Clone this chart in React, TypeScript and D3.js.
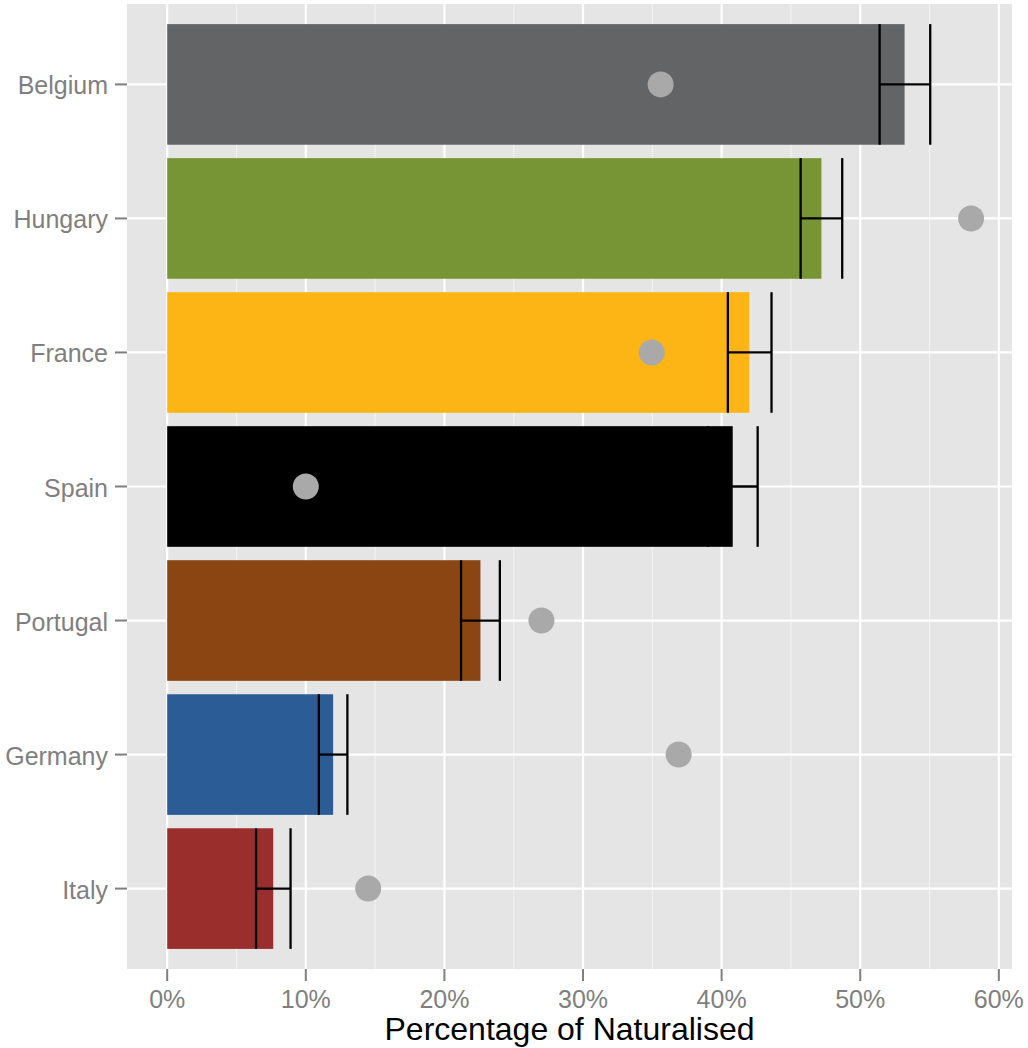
import React from "react";
import * as d3 from "d3";

const countries = ["Belgium", "Hungary", "France", "Spain", "Portugal", "Germany", "Italy"];
const barValues = [53.2, 47.2, 42.0, 40.8, 22.6, 11.97, 7.65];
const errLow = [51.4, 45.7, 40.45, 39.0, 21.2, 10.94, 6.41];
const errHigh = [55.05, 48.7, 43.6, 42.6, 24.0, 13.0, 8.9];
const dotValues = [35.6, 58.0, 34.96, 10.0, 27.0, 36.9, 14.5];
const barColors = ["#636466", "#779534", "#FDB515", "#000000", "#8A4513", "#2C5C96", "#992E2C"];
const xTicks = [0, 10, 20, 30, 40, 50, 60];
const xMinor = [5, 15, 25, 35, 45, 55];
const xTitle = "Percentage of Naturalised";

const W = 1028;
const H = 1048;
const panel = { left: 127, right: 1012, top: 4, bottom: 969 };

export default function App() {
  const x = d3.scaleLinear().domain([-2.9, 60.95]).range([panel.left, panel.right]);
  const band = (panel.bottom - panel.top) / 7.2;
  const yc = (i: number) => panel.top + (0.6 + i) * band;
  const barH = band * 0.9;
  const font = "Liberation Sans, Arial, Helvetica, sans-serif";

  return (
    <svg width={W} height={H} style={{ position: "absolute", left: 0, top: 0, background: "#fff" }}>
      <rect x={panel.left} y={panel.top} width={panel.right - panel.left} height={panel.bottom - panel.top} fill="#E5E5E5" />
      {xMinor.map((t) => (
        <line key={"mn" + t} x1={x(t)} x2={x(t)} y1={panel.top} y2={panel.bottom} stroke="#F2F2F2" strokeWidth={1.2} />
      ))}
      {xTicks.map((t) => (
        <line key={"mj" + t} x1={x(t)} x2={x(t)} y1={panel.top} y2={panel.bottom} stroke="#FFFFFF" strokeWidth={2.2} />
      ))}
      {countries.map((c, i) => (
        <line key={"hg" + c} x1={panel.left} x2={panel.right} y1={yc(i)} y2={yc(i)} stroke="#FFFFFF" strokeWidth={2.2} />
      ))}
      {countries.map((c, i) => (
        <rect key={"bar" + c} x={x(0)} y={yc(i) - barH / 2} width={x(barValues[i]) - x(0)} height={barH} fill={barColors[i]} />
      ))}
      {countries.map((c, i) => (
        <g key={"err" + c} stroke="#000" strokeWidth={2.3}>
          <line x1={x(errLow[i])} x2={x(errHigh[i])} y1={yc(i)} y2={yc(i)} />
          <line x1={x(errLow[i])} x2={x(errLow[i])} y1={yc(i) - barH / 2} y2={yc(i) + barH / 2} />
          <line x1={x(errHigh[i])} x2={x(errHigh[i])} y1={yc(i) - barH / 2} y2={yc(i) + barH / 2} />
        </g>
      ))}
      {countries.map((c, i) => (
        <circle key={"dot" + c} cx={x(dotValues[i])} cy={yc(i)} r={13} fill="#A9A9A9" />
      ))}
      {countries.map((c, i) => (
        <g key={"yl" + c}>
          <line x1={panel.left - 12} x2={panel.left} y1={yc(i)} y2={yc(i)} stroke="#7F7F7F" strokeWidth={2} />
          <text x={panel.left - 19} y={yc(i)} dy="0.4em" textAnchor="end" fontFamily={font} fontSize={25} fill="#7F7F7F">
            {c}
          </text>
        </g>
      ))}
      {xTicks.map((t) => (
        <g key={"xl" + t}>
          <line x1={x(t)} x2={x(t)} y1={panel.bottom} y2={panel.bottom + 12} stroke="#7F7F7F" strokeWidth={2} />
          <text x={x(t)} y={1008} textAnchor="middle" fontFamily={font} fontSize={25} fill="#7F7F7F">
            {t + "%"}
          </text>
        </g>
      ))}
      <text x={(panel.left + panel.right) / 2} y={1040} textAnchor="middle" fontFamily={font} fontSize={32} fill="#000">
        {xTitle}
      </text>
    </svg>
  );
}
